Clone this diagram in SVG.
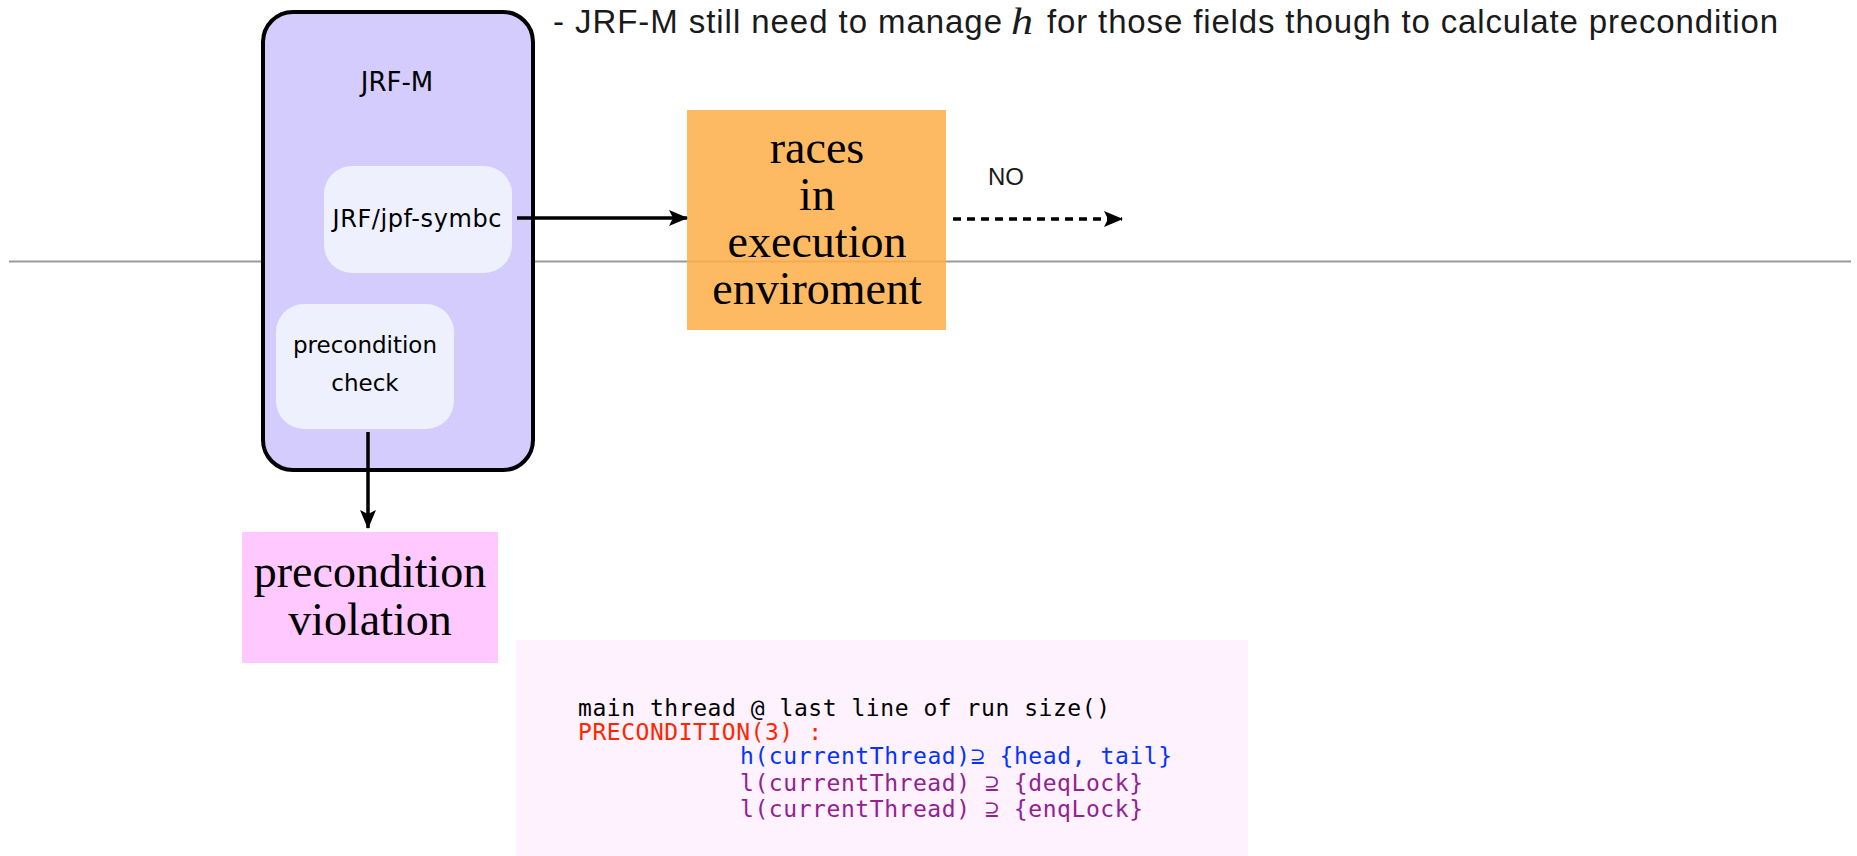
<svg xmlns="http://www.w3.org/2000/svg" width="1857" height="856" viewBox="0 0 1857 856">
  <style>
    .sans { font-family: "DejaVu Sans", "Liberation Sans", sans-serif; fill: #000; }
    .serif { font-family: "Liberation Serif", "DejaVu Serif", serif; fill: #000; font-size: 46px; }
    .mono { font-family: "DejaVu Sans Mono", "Liberation Mono", monospace; font-size: 23px; }
    .title { font-family: "Liberation Sans", Arial, sans-serif; font-size: 33px; fill: #1a1a1a; }
    .inner { fill: #EEF0FD; }
    .conn { stroke: #000; stroke-width: 3.5; fill: none; }
  </style>
  <defs>
    <marker id="arrow" markerUnits="userSpaceOnUse" markerWidth="20" markerHeight="16" refX="18" refY="8" orient="auto">
      <path d="M0,0 L19,8 L0,16 L4,8 z" fill="#000"/>
    </marker>
  </defs>

  <rect width="1857" height="856" fill="#fff"/>

  <g id="title">
    <text class="title" x="553" y="33" textLength="449" lengthAdjust="spacing">- JRF-M still need to manage</text>
    <text x="1011" y="34" font-family="Liberation Serif, serif" font-style="italic" font-size="37" fill="#1a1a1a" textLength="22" lengthAdjust="spacingAndGlyphs">h</text>
    <text class="title" x="1047" y="33" textLength="731" lengthAdjust="spacing">for those fields though to calculate precondition</text>
  </g>

  <line id="separator" x1="9" y1="261.5" x2="1851" y2="261.5" stroke="#9a9a9a" stroke-width="2"/>

  <g id="node-races">
    <rect x="687" y="110" width="259" height="220" fill="#FDAE46" fill-opacity="0.85"/>
    <text class="serif" text-anchor="middle" x="817" y="163">races</text>
    <text class="serif" text-anchor="middle" x="817" y="210">in</text>
    <text class="serif" text-anchor="middle" x="817" y="257">execution</text>
    <text class="serif" text-anchor="middle" x="817" y="304">enviroment</text>
  </g>

  <g id="node-jrfm">
    <rect x="263" y="12" width="270" height="458" rx="30" ry="30" fill="#D5CCFE" stroke="#000" stroke-width="4"/>
    <text class="sans" x="397" y="91" font-size="26" text-anchor="middle">JRF-M</text>
  </g>

  <g id="node-symbc">
    <rect class="inner" x="324" y="166" width="188" height="107" rx="28" ry="28"/>
    <text class="sans" x="417" y="227" font-size="24" text-anchor="middle" textLength="169" lengthAdjust="spacing">JRF/jpf-symbc</text>
  </g>

  <g id="node-precheck">
    <rect class="inner" x="276" y="304" width="178" height="125" rx="28" ry="28"/>
    <text class="sans" x="365" y="353" font-size="23" text-anchor="middle">precondition</text>
    <text class="sans" x="365" y="391" font-size="23" text-anchor="middle">check</text>
  </g>

  <g id="node-violation">
    <rect x="242" y="532" width="256" height="131" fill="#FFC8FF"/>
    <text class="serif" text-anchor="middle" x="370" y="587">precondition</text>
    <text class="serif" text-anchor="middle" x="370" y="635">violation</text>
  </g>

  <g id="node-no">
    <text x="1006" y="185" font-family="Liberation Sans, Arial, sans-serif" font-size="24" text-anchor="middle" fill="#1a1a1a">NO</text>
  </g>

  <g id="node-code">
    <rect x="516" y="640" width="732" height="216" fill="#FDF2FD"/>
    <text class="mono" x="578" y="716" fill="#000" textLength="532" lengthAdjust="spacing">main thread @ last line of run size()</text>
    <text class="mono" x="578" y="740" fill="#FF2600" textLength="244" lengthAdjust="spacing">PRECONDITION(3) :</text>
    <text class="mono" x="740" y="764" fill="#0433FF" textLength="432" lengthAdjust="spacing">h(currentThread)⊇ {head, tail}</text>
    <text class="mono" x="740" y="791" fill="#942192" textLength="403" lengthAdjust="spacing">l(currentThread) ⊇ {deqLock}</text>
    <text class="mono" x="740" y="817" fill="#942192" textLength="403" lengthAdjust="spacing">l(currentThread) ⊇ {enqLock}</text>
  </g>

  <g id="connectors">
    <line class="conn" x1="517" y1="218" x2="687" y2="218" marker-end="url(#arrow)"/>
    <line class="conn" x1="953" y1="219" x2="1122" y2="219" stroke-dasharray="8 6" marker-end="url(#arrow)"/>
    <line class="conn" x1="368" y1="432" x2="368" y2="528" stroke-width="3" marker-end="url(#arrow)"/>
  </g>
</svg>
